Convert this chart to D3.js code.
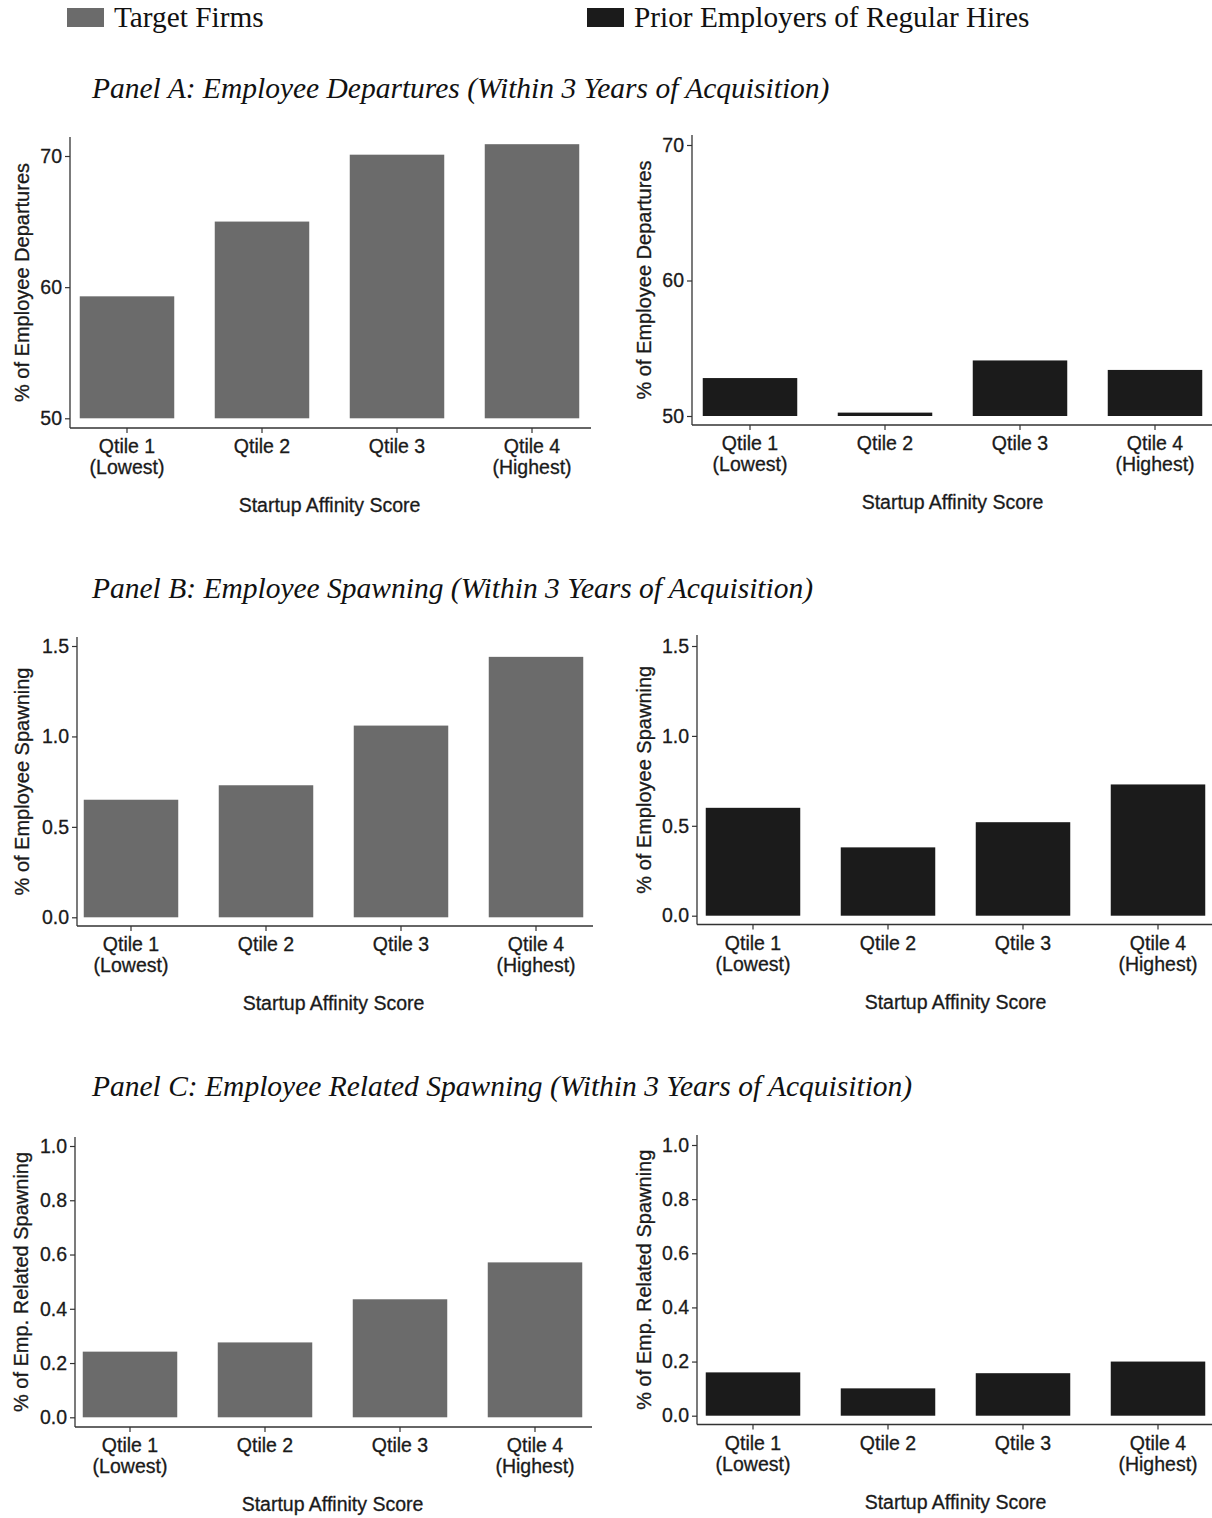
<!DOCTYPE html>
<html>
<head>
<meta charset="utf-8">
<script src="https://cdn.jsdelivr.net/npm/d3@7"></script>
<style>
  html, body { margin: 0; padding: 0; background: #fff; }
  svg { display: block; }
  .lbl { stroke: #1a1a1a; stroke-width: 0.3px; }
</style>
</head>
<body>
<svg id="chart" width="1212" height="1518"></svg>
<script>
// Quartiles of the startup affinity score
const categories = ["Qtile 1", "Qtile 2", "Qtile 3", "Qtile 4"];
const subLabels = ["(Lowest)", "", "", "(Highest)"];

// Panel A: employee departures (%)
const targetDepartures = [59.3, 65.0, 70.1, 70.9];
const priorDepartures  = [52.8, 50.25, 54.1, 53.4];
const ticksDepartures  = [50, 60, 70];

// Panel B: employee spawning (%)
const targetSpawning = [0.65, 0.73, 1.06, 1.44];
const priorSpawning  = [0.60, 0.38, 0.52, 0.73];
const ticksSpawning  = [0.0, 0.5, 1.0, 1.5];

// Panel C: employee related spawning (%)
const targetRelated = [0.242, 0.276, 0.435, 0.571];
const priorRelated  = [0.160, 0.101, 0.157, 0.200];
const ticksRelated  = [0.0, 0.2, 0.4, 0.6, 0.8, 1.0];

const seriesNames = ["Target Firms", "Prior Employers of Regular Hires"];
const panelTitles = [
  "Panel A: Employee Departures (Within 3 Years of Acquisition)",
  "Panel B: Employee Spawning (Within 3 Years of Acquisition)",
  "Panel C: Employee Related Spawning (Within 3 Years of Acquisition)"
];
const yTitles = ["% of Employee Departures", "% of Employee Spawning", "% of Emp. Related Spawning"];
const xTitle = "Startup Affinity Score";

const GRAY = "#6b6b6b", BLACK = "#1b1b1b", AXIS = "#333";
const SANS = "'Liberation Sans', Arial, sans-serif";
const SERIF = "'Liberation Serif', 'Times New Roman', serif";

const svg = d3.select("#chart");

// Legend
const legend = [
  { name: seriesNames[0], color: GRAY, x: 67 },
  { name: seriesNames[1], color: BLACK, x: 587 }
];
legend.forEach(l => {
  svg.append("rect").attr("x", l.x).attr("y", 8).attr("width", 37).attr("height", 19).attr("fill", l.color);
  svg.append("text").attr("x", l.x + 47).attr("y", 27)
    .attr("font-family", SERIF).attr("font-size", 29.3).attr("fill", "#111").text(l.name);
});

// Panel titles
const titleBaselines = [98, 598, 1096];
panelTitles.forEach((t, i) => {
  svg.append("text").attr("x", 92).attr("y", titleBaselines[i])
    .attr("font-family", SERIF).attr("font-style", "italic").attr("font-size", 29.5)
    .attr("fill", "#111").text(t);
});

// Plot frames: axis placement for each of the six charts
const frames = [
  { values: targetDepartures, ticks: ticksDepartures, fmt: d3.format("d"),   title: yTitles[0], color: GRAY,  axisX: 70,  topPx: 156,  botPx: 418.3,  axisY: 428,   lineTop: 137,  c1: 127, titleX: 22,  xEnd: 591 },
  { values: priorDepartures,  ticks: ticksDepartures, fmt: d3.format("d"),   title: yTitles[0], color: BLACK, axisX: 692, topPx: 145,  botPx: 416,    axisY: 425,   lineTop: 135,  c1: 750, titleX: 644, xEnd: 1212 },
  { values: targetSpawning,   ticks: ticksSpawning,   fmt: d3.format(".1f"), title: yTitles[1], color: GRAY,  axisX: 77,  topPx: 646,  botPx: 917.3,  axisY: 926,   lineTop: 637,  c1: 131, titleX: 22,  xEnd: 593 },
  { values: priorSpawning,    ticks: ticksSpawning,   fmt: d3.format(".1f"), title: yTitles[1], color: BLACK, axisX: 697, topPx: 646,  botPx: 915.7,  axisY: 924.5, lineTop: 635,  c1: 753, titleX: 644, xEnd: 1212 },
  { values: targetRelated,    ticks: ticksRelated,    fmt: d3.format(".1f"), title: yTitles[2], color: GRAY,  axisX: 75,  topPx: 1146, botPx: 1417.3, axisY: 1427,  lineTop: 1137, c1: 130, titleX: 21,  xEnd: 592 },
  { values: priorRelated,     ticks: ticksRelated,    fmt: d3.format(".1f"), title: yTitles[2], color: BLACK, axisX: 697, topPx: 1145, botPx: 1415.7, axisY: 1424.5,lineTop: 1135, c1: 753, titleX: 644, xEnd: 1212 }
];

const STEP = 135;

frames.forEach(f => {
  const g = svg.append("g");
  const y = d3.scaleLinear()
    .domain([d3.min(f.ticks), d3.max(f.ticks)])
    .range([f.botPx, f.topPx]);
  const r0 = f.c1 - STEP * 0.5;
  const x = d3.scaleBand()
    .domain(categories)
    .range([r0, r0 + STEP * 4])
    .paddingInner(0.3)
    .paddingOuter(0.15);

  // Bars
  g.selectAll("rect.bar")
    .data(f.values.map((v, i) => ({ cat: categories[i], v })))
    .join("rect")
    .attr("class", "bar")
    .attr("x", d => x(d.cat))
    .attr("width", x.bandwidth())
    .attr("y", d => y(d.v))
    .attr("height", d => Math.max(1.5, y(y.domain()[0]) - y(d.v)))
    .attr("fill", f.color);

  // Y axis
  const yAxis = g.append("g")
    .attr("transform", `translate(${f.axisX},0)`)
    .call(d3.axisLeft(y).tickValues(f.ticks).tickFormat(f.fmt).tickSize(5).tickPadding(3));
  yAxis.select(".domain").remove();
  yAxis.selectAll(".tick line").attr("stroke", AXIS).attr("stroke-width", 1.2);
  yAxis.selectAll(".tick text")
    .attr("class", "lbl")
    .attr("font-family", SANS).attr("font-size", 19.5).attr("fill", "#1a1a1a");

  g.append("line")
    .attr("x1", f.axisX).attr("x2", f.axisX)
    .attr("y1", f.lineTop).attr("y2", f.axisY)
    .attr("stroke", AXIS).attr("stroke-width", 1.3);

  // X axis
  const xAxis = g.append("g")
    .attr("transform", `translate(0,${f.axisY})`)
    .call(d3.axisBottom(x).tickSize(5).tickFormat(""));
  xAxis.select(".domain").remove();
  xAxis.selectAll(".tick line").attr("stroke", AXIS).attr("stroke-width", 1.2);

  g.append("line")
    .attr("x1", f.axisX).attr("x2", f.xEnd)
    .attr("y1", f.axisY).attr("y2", f.axisY)
    .attr("stroke", AXIS).attr("stroke-width", 1.3);

  categories.forEach((c, i) => {
    const cx = x(c) + x.bandwidth() / 2;
    const t = g.append("text")
      .attr("class", "lbl")
      .attr("text-anchor", "middle")
      .attr("font-family", SANS).attr("font-size", 19.5).attr("fill", "#1a1a1a");
    t.append("tspan").attr("x", cx).attr("y", f.axisY + 25).text(c);
    if (subLabels[i]) {
      t.append("tspan").attr("x", cx).attr("y", f.axisY + 46).text(subLabels[i]);
    }
  });

  // Axis titles
  g.append("text")
    .attr("class", "lbl")
    .attr("x", (x(categories[0]) + x(categories[3]) + x.bandwidth()) / 2)
    .attr("y", f.axisY + 84)
    .attr("text-anchor", "middle")
    .attr("font-family", SANS).attr("font-size", 19.5).attr("fill", "#1a1a1a")
    .text(xTitle);

  const cy = (f.lineTop + f.axisY) / 2;
  g.append("text")
    .attr("class", "lbl")
    .attr("transform", `translate(${f.titleX},${cy}) rotate(-90)`)
    .attr("text-anchor", "middle")
    .attr("dy", "0.35em")
    .attr("font-family", SANS).attr("font-size", 20).attr("fill", "#1a1a1a")
    .text(f.title);
});
</script>
</body>
</html>
